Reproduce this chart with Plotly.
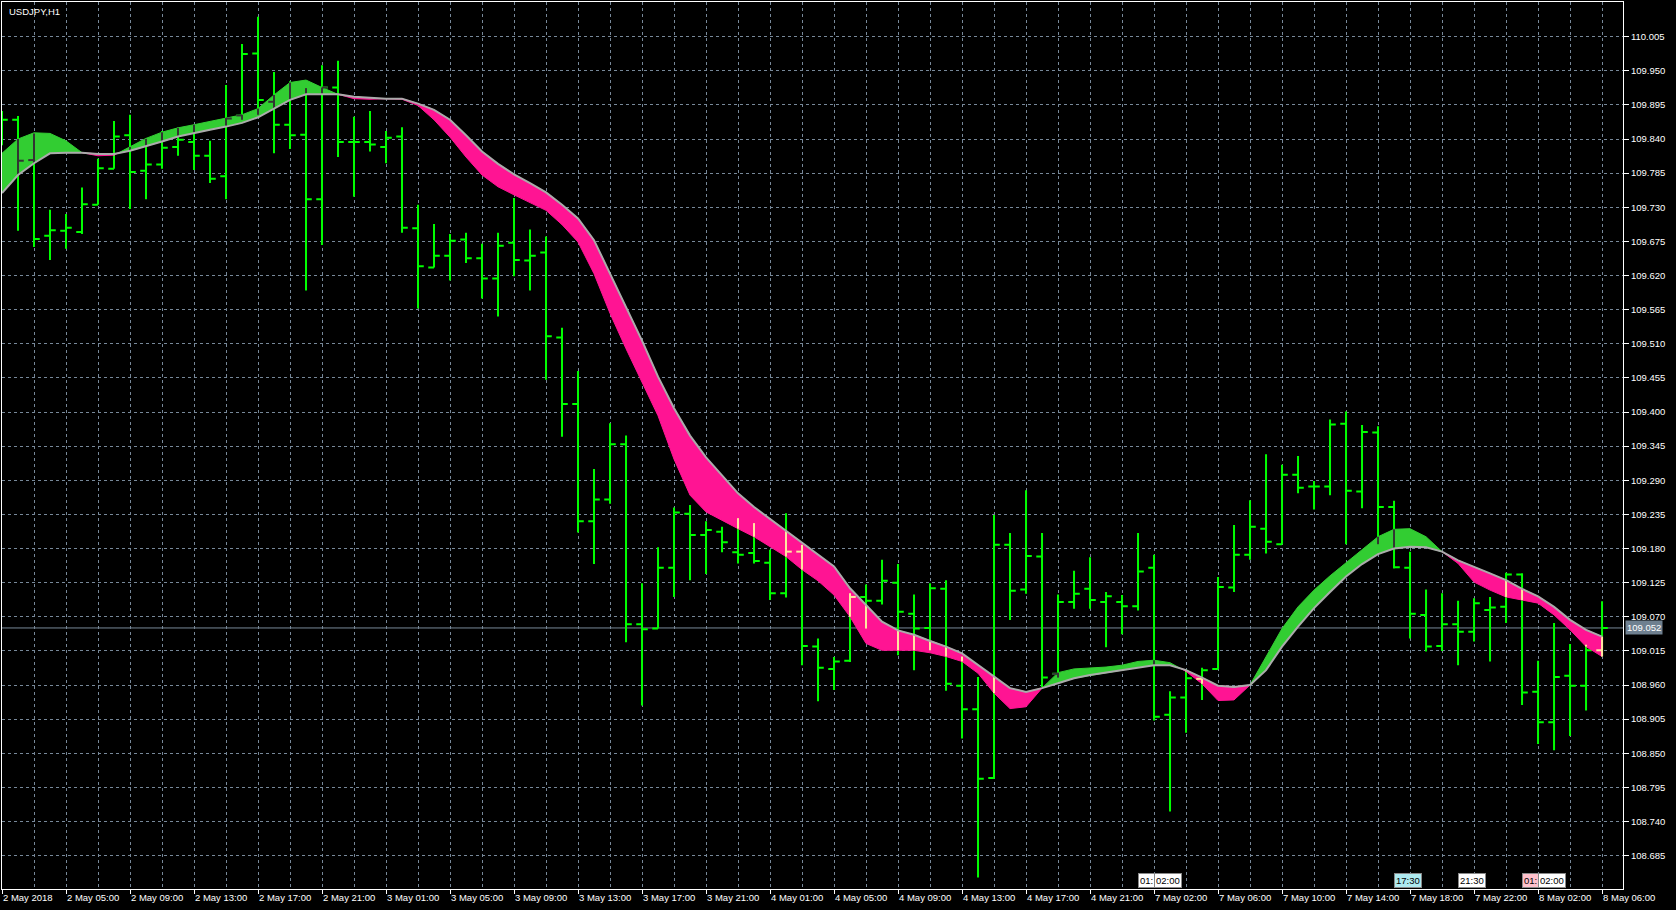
import plotly.graph_objects as go

# ---------------- data ----------------
bar_index = list(range(101))  # H1 bars, 2 May 01:00 ... 8 May 06:00 (weekend skipped)

open_ = [109.850, 109.871, 109.806, 109.684, 109.692, 109.690, 109.734, 109.792, 109.846, 109.789,
         109.799, 109.827, 109.835, 109.813, 109.780, 109.878, 109.978, 109.900, 109.863, 109.847,
         109.743, 109.923, 109.835, 109.835, 109.827, 109.844, 109.696, 109.633, 109.652, 109.678,
         109.648, 109.615, 109.673, 109.644, 109.657, 109.520, 109.413, 109.224, 109.259, 109.348,
         109.058, 109.051, 109.149, 109.236, 109.202, 109.207, 109.174, 109.173, 109.157, 109.108,
         109.175, 109.022, 108.986, 108.999, 109.102, 109.096, 109.125, 109.075, 109.052, 109.115,
         108.959, 108.921, 108.810, 109.186, 109.114, 109.167, 108.978, 109.094, 109.115, 109.094,
         109.094, 109.087, 109.149, 108.912, 108.940, 108.970, 108.986, 109.117, 109.170, 109.212,
         109.187, 109.299, 109.280, 109.280, 109.381, 109.272, 109.367, 109.247, 109.149, 109.073,
         109.023, 109.058, 109.046, 109.081, 109.086, 109.138, 108.949, 108.900, 108.975, 108.959,
         109.016]
high = [109.885, 109.877, 109.849, 109.726, 109.719, 109.762, 109.808, 109.869, 109.879, 109.840,
        109.853, 109.859, 109.863, 109.837, 109.927, 109.993, 110.037, 109.948, 109.933, 109.922,
        109.959, 109.966, 109.876, 109.885, 109.853, 109.859, 109.734, 109.703, 109.687, 109.689,
        109.671, 109.689, 109.745, 109.694, 109.683, 109.536, 109.466, 109.308, 109.382, 109.362,
        109.124, 109.182, 109.246, 109.250, 109.224, 109.215, 109.229, 109.221, 109.178, 109.237,
        109.186, 109.035, 109.005, 109.108, 109.122, 109.162, 109.155, 109.106, 109.124, 109.129,
        109.006, 108.973, 109.234, 109.205, 109.274, 109.205, 109.106, 109.144, 109.166, 109.110,
        109.105, 109.205, 109.170, 108.950, 108.985, 108.988, 109.134, 109.218, 109.258, 109.332,
        109.315, 109.329, 109.289, 109.388, 109.401, 109.379, 109.377, 109.257, 109.175, 109.114,
        109.108, 109.096, 109.100, 109.102, 109.141, 109.140, 108.999, 109.060, 109.026, 109.025,
        109.095]
low = [109.830, 109.692, 109.666, 109.645, 109.663, 109.687, 109.734, 109.792, 109.727, 109.743,
       109.792, 109.813, 109.790, 109.769, 109.743, 109.871, 109.879, 109.817, 109.824, 109.596,
       109.669, 109.811, 109.747, 109.820, 109.801, 109.689, 109.567, 109.633, 109.612, 109.640,
       109.583, 109.554, 109.619, 109.596, 109.452, 109.360, 109.206, 109.155, 109.252, 109.029,
       108.927, 109.051, 109.102, 109.129, 109.139, 109.174, 109.156, 109.156, 109.097, 109.101,
       108.992, 108.934, 108.952, 108.997, 109.051, 109.090, 109.008, 108.984, 109.016, 108.951,
       108.874, 108.650, 108.809, 109.065, 109.107, 108.957, 108.972, 109.083, 109.083, 109.021,
       109.042, 109.080, 108.903, 108.756, 108.883, 108.936, 108.986, 109.110, 109.162, 109.172,
       109.187, 109.269, 109.243, 109.266, 109.187, 109.245, 109.187, 109.148, 109.035, 109.014,
       109.015, 108.992, 109.030, 108.998, 109.060, 108.928, 108.865, 108.855, 108.878, 108.919,
       109.006]
close = [109.871, 109.805, 109.679, 109.693, 109.697, 109.735, 109.793, 109.844, 109.787, 109.799,
         109.826, 109.839, 109.813, 109.776, 109.873, 109.977, 109.903, 109.863, 109.846, 109.743,
         109.923, 109.835, 109.835, 109.831, 109.842, 109.697, 109.635, 109.652, 109.676, 109.648,
         109.615, 109.668, 109.645, 109.652, 109.522, 109.413, 109.224, 109.259, 109.348, 109.058,
         109.050, 109.149, 109.238, 109.202, 109.210, 109.190, 109.170, 109.160, 109.108, 109.175,
         109.023, 108.988, 108.998, 109.102, 109.096, 109.128, 109.078, 109.051, 109.116, 108.962,
         108.921, 108.809, 109.186, 109.112, 109.168, 108.972, 109.094, 109.107, 109.097, 109.103,
         109.087, 109.143, 108.909, 108.940, 108.971, 108.984, 109.118, 109.170, 109.215, 109.191,
         109.299, 109.278, 109.280, 109.380, 109.273, 109.368, 109.247, 109.150, 109.075, 109.022,
         109.058, 109.046, 109.092, 109.085, 109.138, 108.948, 108.900, 108.973, 108.959, 109.016,
         109.052]

# slow average (grey line) and fast average (coloured edge of the ribbon)
ma_slow = [109.753, 109.782, 109.801, 109.817, 109.818, 109.818, 109.816, 109.816, 109.821, 109.828,
           109.836, 109.844, 109.850, 109.855, 109.860, 109.866, 109.875, 109.889, 109.903, 109.912,
           109.912, 109.912, 109.908, 109.906, 109.905, 109.905, 109.897, 109.887, 109.871, 109.846,
           109.820, 109.800, 109.783, 109.769, 109.754, 109.734, 109.712, 109.677, 109.623, 109.569,
           109.515, 109.457, 109.406, 109.362, 109.327, 109.298, 109.269, 109.247, 109.228, 109.209,
           109.189, 109.170, 109.151, 109.116, 109.089, 109.062, 109.048, 109.041, 109.031, 109.022,
           109.011, 108.992, 108.973, 108.955, 108.949, 108.955, 108.963, 108.971, 108.976, 108.980,
           108.984, 108.989, 108.992, 108.992, 108.984, 108.972, 108.959, 108.957, 108.960, 108.984,
           109.022, 109.054, 109.084, 109.110, 109.135, 109.155, 109.171, 109.180, 109.183, 109.182,
           109.175, 109.161, 109.151, 109.140, 109.129, 109.115, 109.103, 109.086, 109.065, 109.049,
           109.038]
ma_fast = [109.817, 109.840, 109.850, 109.849, 109.837, 109.818, 109.813, 109.814, 109.827, 109.841,
           109.851, 109.858, 109.863, 109.868, 109.874, 109.879, 109.889, 109.911, 109.931, 109.935,
           109.923, 109.912, 109.905, 109.904, 109.905, 109.904, 109.894, 109.871, 109.843, 109.811,
           109.782, 109.763, 109.750, 109.738, 109.725, 109.702, 109.674, 109.623, 109.559, 109.502,
           109.448, 109.394, 109.324, 109.266, 109.239, 109.225, 109.212, 109.199, 109.183, 109.167,
           109.146, 109.128, 109.105, 109.070, 109.027, 109.016, 109.016, 109.016, 109.012, 109.006,
           108.998, 108.979, 108.947, 108.922, 108.925, 108.955, 108.980, 108.986, 108.987, 108.989,
           108.992, 108.998, 109.000, 108.996, 108.982, 108.962, 108.935, 108.936, 108.960, 109.006,
           109.051, 109.086, 109.113, 109.136, 109.157, 109.179, 109.199, 109.211, 109.212, 109.199,
           109.175, 109.156, 109.126, 109.113, 109.102, 109.097, 109.092, 109.073, 109.049, 109.022,
           109.006]

label_idx = list(range(0, 101, 4))
time_labels = ["2 May 2018", "2 May 05:00", "2 May 09:00", "2 May 13:00", "2 May 17:00",
               "2 May 21:00", "3 May 01:00", "3 May 05:00", "3 May 09:00", "3 May 13:00",
               "3 May 17:00", "3 May 21:00", "4 May 01:00", "4 May 05:00", "4 May 09:00",
               "4 May 13:00", "4 May 17:00", "4 May 21:00", "7 May 02:00", "7 May 06:00",
               "7 May 10:00", "7 May 14:00", "7 May 18:00", "7 May 22:00", "8 May 02:00",
               "8 May 06:00"]
minor_idx = list(range(2, 101, 4))

price_ticks = [108.685, 108.740, 108.795, 108.850, 108.905, 108.960, 109.015, 109.070, 109.125,
               109.180, 109.235, 109.290, 109.345, 109.400, 109.455, 109.510, 109.565, 109.620,
               109.675, 109.730, 109.785, 109.840, 109.895, 109.950, 110.005]
last_price = 109.052

# time markers at the bottom: (bar index, text, background, clipped width)
tags = [(71, "01:", "#FFFFFF", 13), (72, "02:00", "#FFFFFF", None), (87, "17:30", "#AEEAF0", None),
        (91, "21:30", "#FFFFFF", None), (95, "01:", "#FFC0CB", 13), (96, "02:00", "#FFFFFF", None)]

# ---------------- styles ----------------
BAR = "#00FF00"
UP_FILL = "#32CD32"
DN_FILL = "#FF1493"
GREY = "#ABABAB"
GRID = "#778899"
FONT = "Liberation Sans, Arial, sans-serif"
FS = 9.5

fig = go.Figure()

fig.add_trace(go.Ohlc(
    x=bar_index, open=open_, high=high, low=low, close=close,
    increasing=dict(line=dict(color=BAR, width=2)),
    decreasing=dict(line=dict(color=BAR, width=2)),
    tickwidth=0.36, hoverinfo="skip", showlegend=False))


# ribbon split into runs of constant sign
def split_runs(xs, g, f):
    runs = []
    cur = {"sign": 0, "x": [], "g": [], "f": []}
    for k in range(len(xs)):
        d = f[k] - g[k]
        s = 1 if d > 0 else (-1 if d < 0 else 0)
        if k > 0:
            dp = f[k - 1] - g[k - 1]
            if dp * d < 0:
                t = dp / (dp - d)
                xc = xs[k - 1] + t * (xs[k] - xs[k - 1])
                yc = g[k - 1] + t * (g[k] - g[k - 1])
                cur["x"].append(xc); cur["g"].append(yc); cur["f"].append(yc)
                runs.append(cur)
                cur = {"sign": s, "x": [xc], "g": [yc], "f": [yc]}
        if cur["sign"] == 0:
            cur["sign"] = s
        cur["x"].append(xs[k]); cur["g"].append(g[k]); cur["f"].append(f[k])
        if s == 0 and k > 0:
            runs.append(cur)
            cur = {"sign": 0, "x": [xs[k]], "g": [g[k]], "f": [f[k]]}
    runs.append(cur)
    return runs


for run in split_runs(bar_index, ma_slow, ma_fast):
    if len(run["x"]) < 2 or run["sign"] == 0:
        continue
    col = UP_FILL if run["sign"] > 0 else DN_FILL
    px = run["x"] + run["x"][::-1]
    py = run["f"] + run["g"][::-1]
    fig.add_trace(go.Scatter(x=px, y=py, mode="lines", fill="toself", fillcolor=col,
                             line=dict(color=col, width=1), hoverinfo="skip", showlegend=False))

# parts of the bars that show through the ribbon
yx, yy, dx, dy = [], [], [], []
for i in bar_index:
    lo, hi = min(ma_slow[i], ma_fast[i]), max(ma_slow[i], ma_fast[i])
    pink = ma_fast[i] < ma_slow[i]
    tx, ty = (yx, yy) if pink else (dx, dy)
    a, b = max(low[i], lo), min(high[i], hi)
    if b > a:
        tx += [i, i, None]; ty += [a, b, None]
    if lo <= open_[i] <= hi:
        tx += [i - 0.36, i, None]; ty += [open_[i], open_[i], None]
    if lo <= close[i] <= hi:
        tx += [i, i + 0.36, None]; ty += [close[i], close[i], None]
fig.add_trace(go.Scatter(x=yx, y=yy, mode="lines", line=dict(color="#FFE6A0", width=2),
                         hoverinfo="skip", showlegend=False))
fig.add_trace(go.Scatter(x=dx, y=dy, mode="lines", line=dict(color="#333333", width=2),
                         hoverinfo="skip", showlegend=False))

fig.add_trace(go.Scatter(x=bar_index, y=ma_slow, mode="lines", line=dict(color=GREY, width=2),
                         hoverinfo="skip", showlegend=False))

# last price line
fig.add_shape(type="line", xref="paper", x0=0, x1=1, yref="y", y0=last_price, y1=last_price,
              line=dict(color=GRID, width=1), layer="below")

annotations = [
    dict(text="USDJPY,H1", xref="paper", yref="paper", x=0, y=1, xanchor="left", yanchor="top",
         xshift=5, yshift=-2, showarrow=False, font=dict(color="white", size=FS, family=FONT)),
    dict(text=f"{last_price:.3f}", xref="paper", yref="y", x=1, y=last_price, xanchor="left",
         yanchor="middle", xshift=2, showarrow=False, bgcolor="#6F8090", borderpad=1,
         font=dict(color="white", size=FS, family=FONT)),
]
for idx, txt, bg, w in tags:
    a = dict(text=txt, xref="x", yref="paper", x=idx, y=0, xanchor="left", yanchor="bottom",
             yshift=1, showarrow=False, bgcolor=bg, bordercolor="#888888", borderwidth=1,
             borderpad=1, font=dict(color="black", size=FS, family=FONT))
    if w:
        a["width"] = w
    annotations.append(a)

fig.update_layout(
    width=1676, height=910,
    margin=dict(l=2, r=53, t=2, b=21),
    paper_bgcolor="black", plot_bgcolor="black",
    showlegend=False,
    font=dict(family=FONT, size=FS, color="white"),
    annotations=annotations,
)
fig.update_xaxes(
    range=[0, 101.31], tickvals=label_idx, ticktext=time_labels,
    ticks="outside", ticklen=4, tickcolor="white", ticklabelposition="outside right",
    tickfont=dict(size=FS, color="white", family=FONT),
    showgrid=True, gridcolor=GRID, griddash="3px,3px", gridwidth=1,
    minor=dict(tickvals=minor_idx, showgrid=True, gridcolor=GRID, griddash="3px,3px", ticks=""),
    showline=True, mirror=True, linecolor="white", linewidth=1, zeroline=False,
    rangeslider=dict(visible=False),
)
fig.update_yaxes(
    side="right", range=[108.6313, 110.0608], tickvals=price_ticks,
    ticktext=[f"{v:.3f}" for v in price_ticks],
    ticks="outside", ticklen=5, tickcolor="white",
    tickfont=dict(size=FS, color="white", family=FONT),
    showgrid=True, gridcolor=GRID, griddash="3px,3px", gridwidth=1,
    showline=True, mirror=True, linecolor="white", linewidth=1, zeroline=False,
)

fig.write_html("out.html", config={"displayModeBar": False},
               post_script="document.body.style.margin='0';document.body.style.overflow='hidden';")
